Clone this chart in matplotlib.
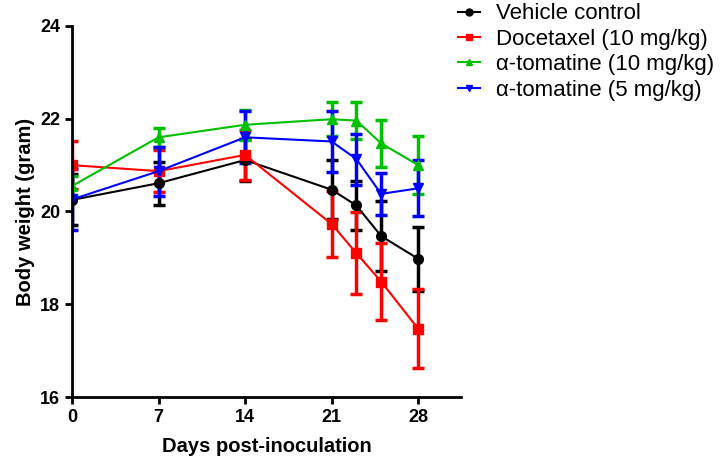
import matplotlib
matplotlib.use("Agg")
import matplotlib.pyplot as plt
from matplotlib.lines import Line2D

plt.rcParams['font.family'] = ['Liberation Sans', 'DejaVu Sans']

days = [0, 7, 14, 21, 23, 25, 28]

vehicle = [20.25, 20.61, 21.11, 20.47, 20.13, 19.47, 18.98]
vehicle_sem = [0.55, 0.46, 0.45, 0.63, 0.52, 0.75, 0.69]

docetaxel = [21.00, 20.87, 21.22, 19.73, 19.10, 18.49, 17.47]
docetaxel_sem = [0.52, 0.46, 0.53, 0.72, 0.88, 0.84, 0.85]

tomatine10 = [20.55, 21.60, 21.87, 21.99, 21.96, 21.47, 21.00]
tomatine10_sem = [0.22, 0.20, 0.32, 0.37, 0.40, 0.50, 0.62]

tomatine5 = [20.26, 20.87, 21.60, 21.51, 21.13, 20.38, 20.50]
tomatine5_sem = [0.65, 0.53, 0.56, 0.65, 0.55, 0.46, 0.60]

labels = ["Vehicle control", "Docetaxel (10 mg/kg)",
          "\u03b1-tomatine (10 mg/kg)", "\u03b1-tomatine (5 mg/kg)"]
colors = ["#000000", "#ff0000", "#00c000", "#0000ff"]
markers = ["o", "s", "^", "v"]
series = [(vehicle, vehicle_sem), (docetaxel, docetaxel_sem),
          (tomatine10, tomatine10_sem), (tomatine5, tomatine5_sem)]

fig = plt.figure(figsize=(7.23, 4.61), dpi=100)
ax = fig.add_axes([72 / 723, 1 - 397 / 461, (461.5 - 72) / 723, (397 - 26) / 461])

for (vals, sem), c, m in zip(series, colors, markers):
    ax.errorbar(days, vals, yerr=sem, color=c, marker=m, markersize=7,
                linewidth=1.5, elinewidth=2.5, capsize=4, capthick=2.5)

ax.set_xlim(0, 31.5)
ax.set_ylim(16, 24)
ax.set_xticks([0, 7, 14, 21, 28])
ax.set_yticks([16, 18, 20, 22, 24])
for s in ["top", "right"]:
    ax.spines[s].set_visible(False)
for s in ["left", "bottom"]:
    ax.spines[s].set_linewidth(2)
ax.tick_params(axis="both", direction="out", length=5, width=2,
               labelsize=13)
for t in ax.get_xticklabels() + ax.get_yticklabels():
    t.set_fontweight("bold")
ax.set_xlabel("Days post-inoculation", fontsize=14.5, fontweight="bold", labelpad=8)
ax.set_ylabel("Body weight (gram)", fontsize=14.5, fontweight="bold", labelpad=4)

handles = [Line2D([], [], color=c, marker=m, markersize=5, linewidth=1.5)
           for c, m in zip(colors, markers)]
fig.legend(handles, labels, loc="upper left",
           bbox_to_anchor=(449 / 723, 1.012), frameon=False,
           fontsize=16, handlelength=1.0, handletextpad=0.7,
           labelspacing=0.2, borderaxespad=0)

fig.savefig("out.png", dpi=100)
